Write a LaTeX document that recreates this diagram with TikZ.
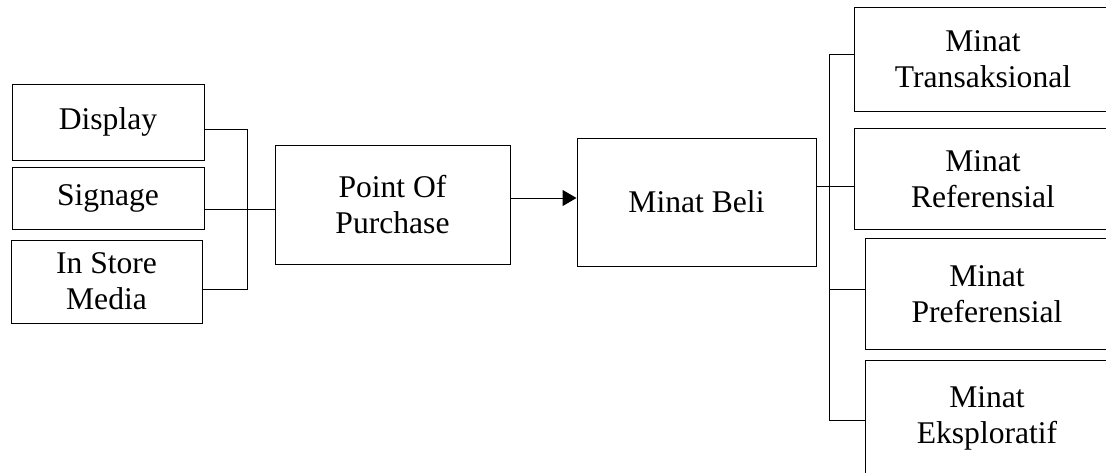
\documentclass[tikz,border=0pt]{standalone}
\usepackage{fontspec}
\setmainfont{Liberation Serif}
\usetikzlibrary{arrows.meta}

\begin{document}
\begin{tikzpicture}[x=0.5pt,y=-0.5pt,line width=0.5pt,>={Triangle[length=7pt,width=8pt]},
		box/.style 2 args={draw,align=center,inner sep=0pt,minimum width=#1,minimum height=#2,
			font=\fontsize{15.8}{18}\selectfont},
		openbox/.style 2 args={box={#1}{#2},draw=none}]
		\useasboundingbox (0,0) rectangle (1106,472);
		\clip (0,0) rectangle (1106,472);
		
		\node[box={96pt}{38pt}]     (disp)  at (108,122)   {Display};
		\node[box={96pt}{31pt}]     (sign)  at (108,198)   {Signage};
		\node[box={95.5pt}{41.5pt}] (ism)   at (106.5,281.5) {In Store\\Media};
		\node[box={117.5pt}{59.5pt}] (pop)  at (392.5,204.5) {Point Of\\Purchase};
		\node[box={119.5pt}{64pt}]  (beli)  at (696.5,202) {Minat Beli};
		\node[openbox={128pt}{51.5pt}] (trans) at (983,59.5) {Minat\\Transaksional};
		\node[openbox={128pt}{50pt}]   (ref)   at (983,179)  {Minat\\Referensial};
		\node[openbox={121pt}{55pt}]   (pref)  at (987,294)  {Minat\\Preferensial};
		\node[openbox={121pt}{57pt}]   (eks)   at (987,418)  {Minat\\Eksploratif};
		
		% right boxes run off the page
		\foreach \n in {trans,ref,pref,eks}
			\draw (\n.north east) -- (\n.north west) -- (\n.south west) -- (\n.south east);
		
		\coordinate (lbar) at (247,0);
		\coordinate (rbar) at (829,0);
		
		% left bracket
		\draw ([yshift=-3.5pt]disp.east) -- ([yshift=-3.5pt]disp.east -| lbar)
			-- ([yshift=-4pt]ism.east -| lbar) -- ([yshift=-4pt]ism.east);
		\draw ([yshift=-5.5pt]sign.east) -- ([yshift=-5.5pt]sign.east -| pop.west);
		
		\draw[->] ([yshift=3.25pt]pop.east) -- ([yshift=3.25pt]pop.east -| beli.west);
		
		% right bracket
		\draw ([yshift=8pt]beli.east) -- ([yshift=8pt]beli.east -| ref.west);
		\draw ([yshift=2.75pt]trans.west) -- ([yshift=2.75pt]trans.west -| rbar)
			-- ([yshift=-1pt]eks.west -| rbar) -- ([yshift=-1pt]eks.west);
		\draw ([yshift=2.5pt]pref.west -| rbar) -- ([yshift=2.5pt]pref.west);
		\end{tikzpicture}
\end{document}
